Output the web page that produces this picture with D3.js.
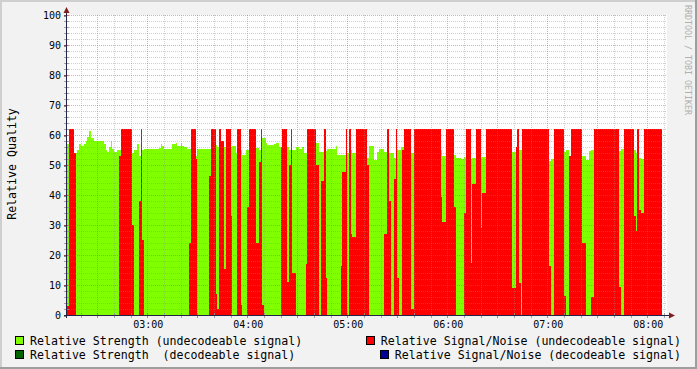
<!DOCTYPE html>
<html lang="en">
<head>
  <meta charset="UTF-8">
  <title>Relative Quality</title>
  <script src="https://d3js.org/d3.v7.min.js"></script>
  <style>
    body {
      margin: 0;
      background: #f2f2f2;
    }
    svg text {
      font-family: "DejaVu Sans Mono", monospace;
    }
  </style>
</head>
<body>
  <svg id="chart" width="697" height="369"></svg>

  <script>
    // step start times (each value holds until the next time)
    const stepTimes = [
      "02:12","02:13","02:16","02:17","02:18","02:19","02:20","02:22","02:23","02:24",
      "02:25","02:26","02:28","02:34","02:35","02:36","02:37","02:38","02:39","02:40",
      "02:42","02:43","02:44","02:51","02:52","02:54","02:55","02:56","02:57","02:58",
      "03:07","03:08","03:09","03:10","03:12","03:15","03:17","03:18","03:20","03:21",
      "03:22","03:24","03:25","03:26","03:29","03:30","03:37","03:38","03:41","03:42",
      "03:43","03:44","03:46","03:47","03:50","03:51","03:53","03:54","03:56","03:57",
      "03:59","04:00","04:01","04:05","04:07","04:08","04:09","04:10","04:11","04:12",
      "04:16","04:17","04:19","04:20","04:21","04:24","04:25","04:26","04:27","04:29",
      "04:31","04:33","04:34","04:35","04:36","04:41","04:43","04:44","04:46","04:47",
      "04:48","04:53","04:54","04:56","04:57","04:59","05:00","05:01","05:02","05:03",
      "05:05","05:12","05:13","05:16","05:18","05:19","05:22","05:24","05:25","05:26",
      "05:28","05:29","05:30","05:31","05:32","05:33","05:34","05:38","05:40","05:56",
      "05:57","05:59","06:04","06:05","06:08","06:10","06:11","06:14","06:15","06:17",
      "06:20","06:21","06:23","06:39","06:41","06:42","06:43","06:44","06:45","07:01",
      "07:02","07:04","07:10","07:11","07:13","07:14","07:21","07:23","07:25","07:26",
      "07:28","07:43","07:44","07:46","07:52","07:53","07:54","07:55","07:56","07:58"
    ];
    const endTime = "08:09";

    // Relative Strength (undecodeable signal); null = hidden behind the red area
    const strength = [
      57,null,54,54,55,57,56.5,57,58,59.5,
      61.5,59,58,57,55,54.5,56,58,55.5,54.5,
      55,55,null,54,55,57,53,null,55,55.3,
      55.6,57,56.3,55.5,55.2,57,57.3,56.3,57.3,56.5,
      56.1,55.3,55.3,null,53,55.3,55.3,null,56.6,56,
      null,56,56,null,56,56.5,54,null,55,53.5,
      55,55,null,55.6,55,null,59,59,57.4,56.6,
      57,57.3,56.1,56,null,56,55,null,55,56.1,
      55.5,56.1,54,54,null,57.5,54.5,54.5,null,54.8,
      55.3,56.2,53.4,53.4,53.4,null,54,null,55,54,
      null,52.3,56.2,51.6,54.5,55.3,54.5,null,54,54,
      52.4,null,55,55,56,56,null,54,null,55,
      53,null,53.5,52.5,52,52.8,null,52,52.2,null,
      52.2,52.8,null,54.3,null,null,55,55,null,51.5,
      52,null,54.4,55,null,null,53,51.6,54.8,55,
      null,54.8,55.3,null,55,54,null,52.5,52,null
    ];

    // Relative Signal/Noise (undecodeable signal)
    const snr = [
      3,62,54,0,0,0,0,0,0,0,
      0,0,0,0,0,0,0,0,0,0,
      0,53,62,30,0,0,38,62,25,0,
      0,0,0,0,0,0,0,0,0,0,
      0,0,24,62,52,0,46.5,62,7,2,
      62,58,15.5,62,33,0,0,62,3.5,0,
      0,36,62,24,51,62,3.5,0,0,0,
      0,0,0,56,62,11,50,62,14,0,
      0,0,0,17,62,50,0,44.6,62,12.5,
      0,0,0,16.5,47.7,62,0,62,27,26,
      62,50,0,0,0,0,27,62,38,0,
      45.5,62,12.5,0,0,55,62,2,62,39.5,
      31,62,36,0,0,34,62,17.5,43.6,62,
      29,40.6,62,9,56,62,10.6,0,62,16.5,
      0,62,6.2,0,53,62,24,0,0,6,
      62,9.5,0,62,33,28,62,35,34,62
    ];

    const yTickValues = [0, 10, 20, 30, 40, 50, 60, 70, 80, 90, 100];

    const legendItems = [
      { label: "Relative Strength (undecodeable signal)", color: "#80ff00", col: 0, row: 0 },
      { label: "Relative Signal/Noise (undecodeable signal)", color: "#ff0000", col: 1, row: 0 },
      { label: "Relative Strength  (decodeable signal)", color: "#006400", col: 0, row: 1 },
      { label: "Relative Signal/Noise (decodeable signal)", color: "#000099", col: 1, row: 1 }
    ];

    const W = 697, H = 369;
    const plot = { left: 67, right: 667, top: 15, bottom: 315 };

    const parseHM = d3.timeParse("%H:%M");
    const parseHMS = d3.timeParse("%H:%M:%S");

    const x = d3.scaleTime()
      .domain([parseHMS("02:11:48"), parseHMS("08:11:48")])
      .range([plot.left, plot.right]);
    const y = d3.scaleLinear()
      .domain([0, 100])
      .range([plot.bottom, plot.top]);

    const svg = d3.select("#chart");

    // background + shaded frame
    svg.append("rect").attr("width", W).attr("height", H).attr("fill", "#f2f2f2");
    svg.append("path").attr("d", `M0,${H} V0 H${W}`).attr("fill", "none")
      .attr("stroke", "#cfcfcf").attr("stroke-width", 2).attr("transform", "translate(1,1)");
    svg.append("path").attr("d", `M0,${H - 1} H${W - 1} V0`).attr("fill", "none")
      .attr("stroke", "#9e9e9e").attr("stroke-width", 2);

    // canvas
    svg.append("rect")
      .attr("x", plot.left).attr("y", plot.top)
      .attr("width", plot.right - plot.left).attr("height", plot.bottom - plot.top)
      .attr("fill", "#ffffff");

    // build step data
    const points = stepTimes.map((t, i) => ({
      t: parseHM(t),
      g: strength[i] == null ? 0 : strength[i],
      r: snr[i]
    }));
    const last = points[points.length - 1];
    points.push({ t: parseHM(endTime), g: last.g, r: last.r });

    const greenArea = d3.area()
      .x(d => x(d.t)).y0(y(0)).y1(d => y(d.g))
      .curve(d3.curveStepAfter);
    const redArea = d3.area()
      .x(d => x(d.t)).y0(y(0)).y1(d => y(d.r))
      .curve(d3.curveStepAfter);

    svg.append("path").datum(points)
      .attr("d", greenArea).attr("fill", "#80ff00")
      .attr("shape-rendering", "crispEdges");
    svg.append("path").datum(points)
      .attr("d", redArea).attr("fill", "#ff0000")
      .attr("shape-rendering", "crispEdges");

    // grid (drawn over the data, like rrdtool)
    const grid = svg.append("g");
    const snap = v => Math.round(v) + 0.5;
    const minorCol = "rgba(143,143,143,0.42)";
    const majorCol = "rgba(222,80,80,0.5)";

    const tenMin = d3.timeMinute.every(10).range(x.domain()[0], x.domain()[1]);
    tenMin.forEach(t => {
      const major = t.getMinutes() % 30 === 0;
      grid.append("line")
        .attr("x1", snap(x(t))).attr("x2", snap(x(t)))
        .attr("y1", plot.top).attr("y2", plot.bottom)
        .attr("stroke", major ? majorCol : minorCol)
        .attr("stroke-dasharray", "1,1");
      // tick marks on the axis
      grid.append("line")
        .attr("x1", snap(x(t))).attr("x2", snap(x(t)))
        .attr("y1", plot.bottom - 2).attr("y2", plot.bottom + 3)
        .attr("stroke", major ? "rgba(222,80,80,0.8)" : "rgba(143,143,143,0.8)");
    });

    d3.range(2, 101, 2).forEach(v => {
      const major = v % 10 === 0;
      grid.append("line")
        .attr("x1", plot.left).attr("x2", plot.right)
        .attr("y1", snap(y(v))).attr("y2", snap(y(v)))
        .attr("stroke", major ? majorCol : minorCol)
        .attr("stroke-dasharray", "1,1");
      grid.append("line")
        .attr("x1", plot.left - 3).attr("x2", plot.left + 2)
        .attr("y1", snap(y(v))).attr("y2", snap(y(v)))
        .attr("stroke", major ? "rgba(222,80,80,0.8)" : "rgba(143,143,143,0.8)");
    });

    // axes labels through d3 axes
    const yAxis = svg.append("g")
      .attr("transform", `translate(${plot.left},0.5)`)
      .call(d3.axisLeft(y).tickValues(yTickValues).tickSize(3).tickPadding(3));
    yAxis.select(".domain").remove();
    yAxis.selectAll(".tick line").attr("stroke", "#1f1f1f");
    yAxis.selectAll("text").attr("font-size", "10px")
      .attr("font-family", "DejaVu Sans Mono").attr("fill", "#000");

    const xAxis = svg.append("g")
      .attr("transform", `translate(0.5,${plot.bottom})`)
      .call(d3.axisBottom(x)
        .ticks(d3.timeHour.every(1))
        .tickFormat(d3.timeFormat("%H:%M"))
        .tickSize(0).tickPadding(6));
    xAxis.select(".domain").remove();
    xAxis.selectAll("text").attr("font-size", "10px")
      .attr("font-family", "DejaVu Sans Mono").attr("fill", "#000");

    // axis lines and arrows
    const axisColor = "#23234a";
    svg.append("line")
      .attr("x1", plot.left - 3).attr("x2", plot.right + 5)
      .attr("y1", plot.bottom + 0.5).attr("y2", plot.bottom + 0.5)
      .attr("stroke", axisColor);
    svg.append("line")
      .attr("x1", plot.left - 0.5).attr("x2", plot.left - 0.5)
      .attr("y1", plot.bottom + 3).attr("y2", plot.top - 4)
      .attr("stroke", axisColor);
    svg.append("path")
      .attr("d", `M${plot.right + 2},${plot.bottom - 2.5} L${plot.right + 8},${plot.bottom + 0.5} L${plot.right + 2},${plot.bottom + 3.5} Z`)
      .attr("fill", "#801f1f");
    svg.append("path")
      .attr("d", `M${plot.left - 3.5},${plot.top - 2} L${plot.left - 0.5},${plot.top - 8} L${plot.left + 2.5},${plot.top - 2} Z`)
      .attr("fill", "#801f1f");

    // vertical axis title
    svg.append("text")
      .attr("transform", "translate(16,164) rotate(-90)")
      .attr("text-anchor", "middle")
      .attr("font-size", "11.6px")
      .attr("fill", "#000")
      .text("Relative Quality");

    // watermark
    svg.append("text")
      .attr("transform", "translate(685,5) rotate(90)")
      .attr("font-size", "8.3px")
      .attr("fill", "#b0b0b0")
      .text("RRDTOOL / TOBI OETIKER");

    // legend
    const rowY = [345, 359];
    legendItems.forEach(item => {
      const g = svg.append("g");
      const txt = g.append("text")
        .attr("y", rowY[item.row])
        .attr("font-size", "11.6px")
        .attr("fill", "#000")
        .attr("xml:space", "preserve")
        .style("white-space", "pre")
        .text(item.label);
      let tx;
      if (item.col === 0) {
        tx = 30;
      } else {
        tx = 681 - txt.node().getComputedTextLength();
      }
      txt.attr("x", tx);
      g.append("rect")
        .attr("x", Math.round(tx - 15) + 0.5).attr("y", rowY[item.row] - 8.5)
        .attr("width", 8).attr("height", 8)
        .attr("fill", item.color)
        .attr("stroke", "#000");
    });
  </script>
</body>
</html>
